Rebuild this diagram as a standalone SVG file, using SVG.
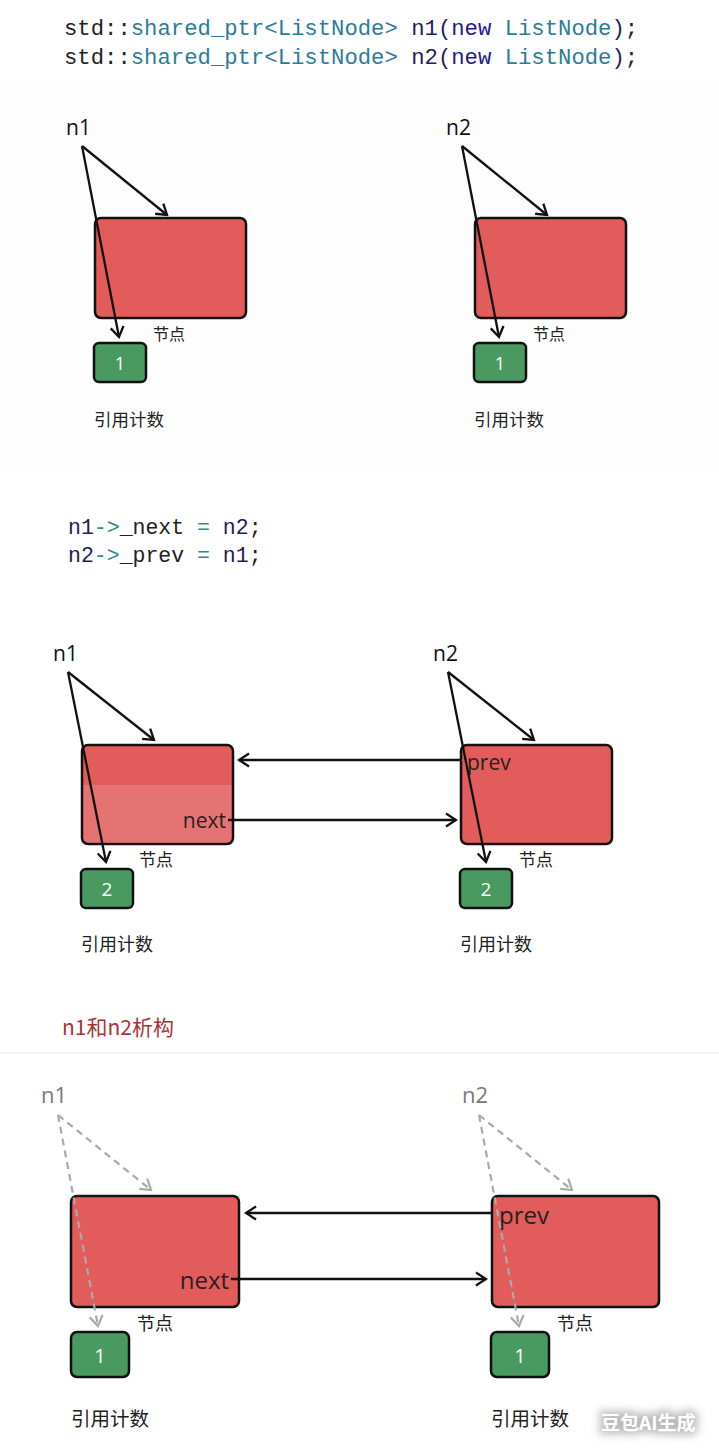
<svg xmlns="http://www.w3.org/2000/svg" width="719" height="1454" viewBox="0 0 719 1454">
<style>
.code1{font-family:"Liberation Mono","DejaVu Sans Mono",monospace;font-size:22.25px;}
.code2{font-family:"Liberation Mono","DejaVu Sans Mono",monospace;font-size:21.5px;}
.dk{fill:#222222}.tl{fill:#2b7c99}.nv{fill:#1e1e5a}.kw{fill:#1c1c8c}.op{fill:#2b8a8a}
.node{fill:#e25c5c;stroke:#111;stroke-width:2.5}
.cnt{fill:#4a9960;stroke:#111;stroke-width:2.5}
.num{font-family:"Open Sans","Liberation Sans",sans-serif;fill:#fff;text-anchor:middle}
.var{font-family:"Open Sans","Liberation Sans",sans-serif;fill:#111}
.varg{font-family:"Open Sans","Liberation Sans",sans-serif;fill:#7a7a7a}
.fld{font-family:"Open Sans","Liberation Sans",sans-serif;fill:#2a2020}
.cjk{font-family:"Noto Sans CJK SC","Noto Sans",sans-serif;fill:#222}
.arr{stroke:#111;stroke-width:2.3;fill:none;marker-end:url(#ah)}
.darr{stroke:#aaaaaa;stroke-width:2.2;fill:none;stroke-dasharray:7 5;marker-end:url(#ahg)}
</style>
<defs>
<marker id="ah" markerUnits="userSpaceOnUse" viewBox="0 0 16 16" markerWidth="16" markerHeight="16" refX="14" refY="8" orient="auto">
<path d="M4,1.5 L14,8 L4,14.5" fill="none" stroke="#111" stroke-width="2.3" stroke-linejoin="miter"/>
</marker>
<marker id="ahg" markerUnits="userSpaceOnUse" viewBox="0 0 16 16" markerWidth="16" markerHeight="16" refX="14" refY="8" orient="auto">
<path d="M4,1.5 L14,8 L4,14.5" fill="none" stroke="#aaaaaa" stroke-width="2.2"/>
</marker>
<filter id="blur" x="-20%" y="-50%" width="140%" height="200%"><feGaussianBlur stdDeviation="4"/></filter>
</defs>
<rect x="0" y="0" width="719" height="1454" fill="#ffffff"/>
<rect x="0" y="80" width="719" height="390" fill="#fdfdfd"/>
<line x1="0" y1="1053" x2="719" y2="1053" stroke="#f2f2f2" stroke-width="1.5"/>

<!-- code block 1 -->
<g id="code1">
<text class="code1" x="64" y="35"><tspan class="dk">std::</tspan><tspan class="tl">shared_ptr&lt;ListNode&gt;</tspan><tspan class="dk"> </tspan><tspan class="nv">n1(</tspan><tspan class="kw">new</tspan><tspan class="dk"> </tspan><tspan class="tl">ListNode</tspan><tspan class="nv">)</tspan><tspan class="dk">;</tspan></text>
<text class="code1" x="64" y="64"><tspan class="dk">std::</tspan><tspan class="tl">shared_ptr&lt;ListNode&gt;</tspan><tspan class="dk"> </tspan><tspan class="nv">n2(</tspan><tspan class="kw">new</tspan><tspan class="dk"> </tspan><tspan class="tl">ListNode</tspan><tspan class="nv">)</tspan><tspan class="dk">;</tspan></text>
</g>

<!-- section 1 nodes -->
<g id="s1-n1">
<text class="var" x="66" y="135" font-size="21">n1</text>
<rect class="node" x="95" y="218" width="151" height="100" rx="6"/>
<text class="cjk" x="153" y="340" font-size="16">节点</text>
<rect class="cnt" x="94" y="343" width="52" height="39" rx="5"/>
<text class="num" x="120" y="370" font-size="18">1</text>
<text class="cjk" x="94" y="426" font-size="17.5">引用计数</text>
</g>
<g id="s1-n2">
<text class="var" x="446" y="135" font-size="21">n2</text>
<rect class="node" x="475" y="218" width="151" height="100" rx="6"/>
<text class="cjk" x="533" y="340" font-size="16">节点</text>
<rect class="cnt" x="474" y="343" width="52" height="39" rx="5"/>
<text class="num" x="500" y="370" font-size="18">1</text>
<text class="cjk" x="474" y="426" font-size="17.5">引用计数</text>
</g>

<!-- code block 2 -->
<g id="code2">
<text class="code2" x="68" y="534"><tspan class="nv">n1</tspan><tspan class="op">-&gt;</tspan><tspan class="dk">_next </tspan><tspan class="op">=</tspan><tspan class="dk"> </tspan><tspan class="nv">n2</tspan><tspan class="dk">;</tspan></text>
<text class="code2" x="68" y="562"><tspan class="nv">n2</tspan><tspan class="op">-&gt;</tspan><tspan class="dk">_prev </tspan><tspan class="op">=</tspan><tspan class="dk"> </tspan><tspan class="nv">n1</tspan><tspan class="dk">;</tspan></text>
</g>

<!-- section 2 nodes -->
<g id="s2-n1">
<text class="var" x="53" y="661" font-size="21">n1</text>
<rect class="node" x="82" y="745" width="151" height="99" rx="6"/>
<path d="M83.3,785 H231.7 V838 a5,5 0 0 1 -5,5 H88.3 a5,5 0 0 1 -5,-5 Z" fill="#ffffff" opacity="0.14"/>
<text class="fld" x="226" y="828" font-size="21" text-anchor="end">next</text>
<text class="cjk" x="139" y="866" font-size="17">节点</text>
<rect class="cnt" x="81" y="869" width="52" height="39" rx="5"/>
<text class="num" x="107" y="896" font-size="19">2</text>
<text class="cjk" x="81" y="951" font-size="18">引用计数</text>
</g>
<g id="s2-n2">
<text class="var" x="433" y="661" font-size="21">n2</text>
<rect class="node" x="461" y="745" width="151" height="99" rx="6"/>
<text class="fld" x="467" y="770" font-size="21">prev</text>
<text class="cjk" x="519" y="866" font-size="17">节点</text>
<rect class="cnt" x="460" y="869" width="52" height="39" rx="5"/>
<text class="num" x="486" y="896" font-size="19">2</text>
<text class="cjk" x="460" y="951" font-size="18">引用计数</text>
</g>

<!-- section 3 -->
<g id="title3">
<text x="62" y="1035" font-size="21" fill="#a83434" font-family="'Noto Sans CJK SC','Noto Sans',sans-serif">n1和n2析构</text>
</g>
<g id="s3-n1">
<text class="varg" x="41" y="1103" font-size="22">n1</text>
<rect class="node" x="71" y="1196" width="168" height="111" rx="6"/>
<text class="fld" x="229" y="1289" font-size="24" text-anchor="end">next</text>
<text class="cjk" x="137" y="1330" font-size="18">节点</text>
<rect class="cnt" x="71" y="1332" width="58" height="45" rx="6"/>
<text class="num" x="100" y="1363" font-size="20">1</text>
<text class="cjk" x="71" y="1426" font-size="19.5">引用计数</text>
</g>
<g id="s3-n2">
<text class="varg" x="462" y="1103" font-size="22">n2</text>
<rect class="node" x="492" y="1196" width="167" height="111" rx="6"/>
<text class="fld" x="499" y="1224" font-size="24">prev</text>
<text class="cjk" x="557" y="1330" font-size="18">节点</text>
<rect class="cnt" x="491" y="1332" width="58" height="45" rx="6"/>
<text class="num" x="520" y="1363" font-size="20">1</text>
<text class="cjk" x="491" y="1426" font-size="19.5">引用计数</text>
</g>

<!-- connectors -->
<g id="connectors">
<line class="arr" x1="82" y1="146" x2="167" y2="215"/>
<line class="arr" x1="82" y1="146" x2="119" y2="337"/>
<line class="arr" x1="462" y1="146" x2="547" y2="215"/>
<line class="arr" x1="462" y1="146" x2="499" y2="337"/>

<line class="arr" x1="68" y1="672" x2="154" y2="740"/>
<line class="arr" x1="68" y1="672" x2="106" y2="862"/>
<line class="arr" x1="448" y1="672" x2="534" y2="740"/>
<line class="arr" x1="448" y1="672" x2="486" y2="862"/>
<line class="arr" x1="461" y1="760" x2="239" y2="760"/>
<line class="arr" x1="228" y1="820" x2="456" y2="820"/>

<line class="darr" x1="58" y1="1115" x2="151" y2="1190"/>
<line class="darr" x1="58" y1="1115" x2="98" y2="1326"/>
<line class="darr" x1="479" y1="1115" x2="572" y2="1190"/>
<line class="darr" x1="479" y1="1115" x2="519" y2="1326"/>
<line class="arr" x1="492" y1="1213" x2="246" y2="1213"/>
<line class="arr" x1="231" y1="1279" x2="486" y2="1279"/>
</g>

<!-- watermark -->
<g id="watermark">
<text x="601" y="1430" font-size="19" font-weight="bold" fill="none" stroke="#bbbbbb" stroke-width="6" filter="url(#blur)" font-family="'Noto Sans CJK SC',sans-serif">豆包AI生成</text>
<text x="601" y="1430" font-size="19" font-weight="bold" fill="#ffffff" font-family="'Noto Sans CJK SC',sans-serif">豆包AI生成</text>
</g>
</svg>
